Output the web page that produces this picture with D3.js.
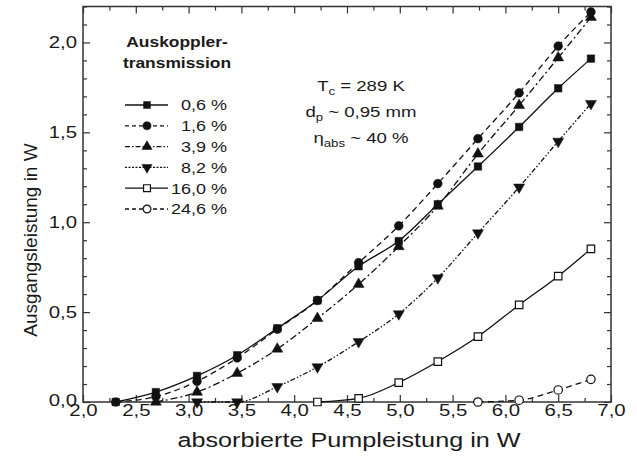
<!DOCTYPE html>
<html><head><meta charset="utf-8">
<script src="https://cdn.jsdelivr.net/npm/d3@7"></script>
<style>
body{margin:0;background:#fff}
text{font-family:"Liberation Sans",Arial,Helvetica,sans-serif;fill:#1a1a1a}
</style>
</head><body>
<svg id="chart" width="637" height="459"></svg>
<script>
// ---------- data ----------
const pumpPower = [2.31, 2.69, 3.08, 3.46, 3.84, 4.22, 4.61, 4.99, 5.36, 5.74, 6.13, 6.50, 6.81];
const seriesLabels = ["0,6 %", "1,6 %", "3,9 %", "8,2 %", "16,0 %", "24,6 %"];
const out06  = [0, 0.055, 0.145, 0.26, 0.41, 0.565, 0.755, 0.895, 1.10, 1.31, 1.53, 1.745, 1.91];
const out16  = [0, 0.03, 0.115, 0.245, 0.405, 0.565, 0.775, 0.98, 1.215, 1.465, 1.72, 1.98, 2.17];
const out39  = [null, 0, 0.055, 0.16, 0.295, 0.465, 0.655, 0.865, 1.09, 1.38, 1.65, 1.915, 2.14];
const out82  = [null, null, 0, 0, 0.085, 0.195, 0.335, 0.49, 0.69, 0.94, 1.195, 1.45, 1.66];
const out160 = [null, null, null, null, null, 0, 0.02, 0.108, 0.225, 0.364, 0.54, 0.70, 0.852];
const out246 = [null, null, null, null, null, null, null, null, null, 0, 0.01, 0.067, 0.126];
const xTickValues = [2.0, 2.5, 3.0, 3.5, 4.0, 4.5, 5.0, 5.5, 6.0, 6.5, 7.0];
const yTickValues = [0.0, 0.5, 1.0, 1.5, 2.0];
const legendTitle = ["Auskoppler-", "transmission"];
const xTitle = "absorbierte Pumpleistung in W";
const yTitle = "Ausgangsleistung in W";

// ---------- styles ----------
const allSeries = [out06, out16, out39, out82, out160, out246];
const dashes = [null, "6,4", "7,3,2,3", "5,2,1.5,2,1.5,2", null, "6,4"];
const legendDashes = [null, "4,3", "5,2,1.5,2", "2,1.5", null, "4,3"];
const symbols = [d3.symbolSquare, d3.symbolCircle, d3.symbolTriangle, d3.symbolTriangle, d3.symbolSquare, d3.symbolCircle];
const symSizes = [56, 60, 52, 52, 56, 56];
const rotations = [0, 0, 0, 180, 0, 0];
const filled = [true, true, true, true, false, false];
const SX = 1.2;
const fmt = d => d3.format(".1f")(d).replace(".", ",");

const svg = d3.select("#chart");
const x = d3.scaleLinear().domain([2, 7]).range([83, 611]);
const y = d3.scaleLinear().domain([0, 2.2]).range([402, 6.5]);

// frame
svg.append("rect").attr("x", 83).attr("y", 6.5).attr("width", 528).attr("height", 395.5)
  .attr("fill", "none").attr("stroke", "#333").attr("stroke-width", 1.5);

const xMinor = d3.range(2.25, 7, 0.5);
const yMinor = d3.range(0, 2.21, 0.1).filter(v => Math.abs(v * 2 - Math.round(v * 2)) > 1e-6);

function styleAxis(g) {
  g.select(".domain").remove();
  g.selectAll("line").attr("stroke", "#333").attr("stroke-width", 1.2);
}
// bottom
const gb = svg.append("g").attr("transform", "translate(0,402)")
  .call(d3.axisBottom(x).tickValues(xTickValues).tickSizeInner(-7).tickSizeOuter(0).tickPadding(2).tickFormat(fmt));
styleAxis(gb);
gb.attr("font-size", 17).attr("font-family", null);
gb.selectAll("text").attr("transform", `scale(${SX},1)`).attr("fill", "#1a1a1a");
svg.append("g").attr("transform", "translate(0,402)")
  .call(d3.axisBottom(x).tickValues(xMinor).tickSizeInner(-4).tickSizeOuter(0).tickFormat(""))
  .call(styleAxis);
// top
svg.append("g").attr("transform", "translate(0,6.5)")
  .call(d3.axisTop(x).tickValues(xTickValues).tickSizeInner(-7).tickSizeOuter(0).tickFormat(""))
  .call(styleAxis);
svg.append("g").attr("transform", "translate(0,6.5)")
  .call(d3.axisTop(x).tickValues(xMinor).tickSizeInner(-4).tickSizeOuter(0).tickFormat(""))
  .call(styleAxis);
// left
const gl = svg.append("g").attr("transform", "translate(83,0)")
  .call(d3.axisLeft(y).tickValues(yTickValues).tickSizeInner(-7).tickSizeOuter(0).tickPadding(6).tickFormat(fmt));
styleAxis(gl);
gl.attr("font-size", 17).attr("font-family", null);
gl.selectAll("text").attr("x", -6 / SX).attr("transform", `scale(${SX},1)`).attr("fill", "#1a1a1a");
gl.selectAll("text").filter(d => d === 0).attr("dy", "0.2em");
svg.append("g").attr("transform", "translate(83,0)")
  .call(d3.axisLeft(y).tickValues(yMinor).tickSizeInner(-4).tickSizeOuter(0).tickFormat(""))
  .call(styleAxis);
// right
svg.append("g").attr("transform", "translate(611,0)")
  .call(d3.axisRight(y).tickValues(yTickValues).tickSizeInner(-7).tickSizeOuter(0).tickFormat(""))
  .call(styleAxis);
svg.append("g").attr("transform", "translate(611,0)")
  .call(d3.axisRight(y).tickValues(yMinor).tickSizeInner(-4).tickSizeOuter(0).tickFormat(""))
  .call(styleAxis);

// axis titles
svg.append("text").attr("transform", `translate(349,447) scale(${SX},1)`)
  .attr("text-anchor", "middle").attr("font-size", 21).text(xTitle);
svg.append("text").attr("transform", "translate(37,240) rotate(-90)")
  .attr("text-anchor", "middle").attr("font-size", 19).text(yTitle);

// series
const line = d3.line().defined(d => d[1] != null).x(d => x(d[0])).y(d => y(d[1])).curve(d3.curveMonotoneX);
const plot = svg.append("g");
allSeries.forEach((vals, i) => {
  const pts = pumpPower.map((p, k) => [p, vals[k]]).filter(d => d[1] != null);
  plot.append("path").datum(pts).attr("d", line).attr("fill", "none")
    .attr("stroke", "#111").attr("stroke-width", 1.3)
    .attr("stroke-dasharray", dashes[i]);
});
function drawSym(g, i, cx, cy, scale) {
  g.append("path")
    .attr("d", d3.symbol().type(symbols[i]).size(symSizes[i] * (scale || 1))())
    .attr("transform", `translate(${cx},${cy}) rotate(${rotations[i]})`)
    .attr("fill", filled[i] ? "#111" : "#fff")
    .attr("stroke", "#111").attr("stroke-width", filled[i] ? 0.5 : 1.2);
}
allSeries.forEach((vals, i) => {
  pumpPower.forEach((p, k) => {
    if (vals[k] != null) drawSym(plot, i, x(p), y(vals[k]));
  });
});

// legend
const lg = svg.append("g");
lg.append("text").attr("transform", `translate(177,47) scale(${SX},1)`).attr("text-anchor", "middle")
  .attr("font-size", 14.5).attr("font-weight", "bold").text(legendTitle[0]);
lg.append("text").attr("transform", `translate(177,68) scale(${SX},1)`).attr("text-anchor", "middle")
  .attr("font-size", 14.5).attr("font-weight", "bold").text(legendTitle[1]);
seriesLabels.forEach((lab, i) => {
  const ly = 105 + i * 20.8;
  lg.append("line").attr("x1", 125).attr("x2", 168).attr("y1", ly).attr("y2", ly)
    .attr("stroke", "#111").attr("stroke-width", 1.3).attr("stroke-dasharray", legendDashes[i]);
  drawSym(lg, i, 147, ly, 0.85);
  lg.append("text").attr("transform", `translate(227,${ly}) scale(${SX},1)`).attr("text-anchor", "end")
    .attr("dy", "0.36em").attr("font-size", 15).text(lab);
});

// annotation
const an = svg.append("g").attr("font-size", 15.5);
function annot(yb, main, sub, rest) {
  const t = an.append("text").attr("transform", `translate(361,${yb}) scale(${SX},1)`).attr("text-anchor", "middle");
  t.append("tspan").text(main);
  t.append("tspan").attr("font-size", 11).attr("dy", 4).text(sub);
  t.append("tspan").attr("dy", -4).text(rest);
}
annot(91, "T", "c", " = 289 K");
annot(117, "d", "p", " ~ 0,95 mm");
annot(143, "η", "abs", " ~ 40 %");
</script>
</body></html>
